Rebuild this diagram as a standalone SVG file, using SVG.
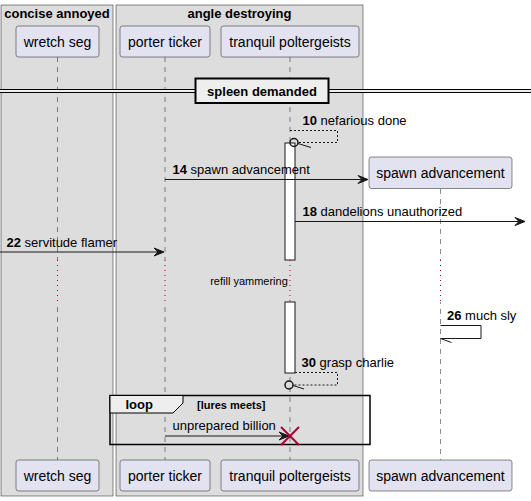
<svg xmlns="http://www.w3.org/2000/svg" width="531" height="501" viewBox="0 0 531 501">
<style>
text{font-family:"Liberation Sans",Arial,sans-serif;fill:#000}
.box{fill:#DDDDDD;stroke:#181818;stroke-width:0.5}
.bt{font-size:13px;font-weight:bold;text-anchor:middle}
.p rect{fill:#E2E2F0;stroke:#181818;stroke-width:0.5}
.p text{font-size:14px;text-anchor:middle}
.life{stroke:#181818;stroke-width:0.5;stroke-dasharray:5,5;fill:none}
.delay{stroke:#A80036;stroke-width:1;stroke-dasharray:1,4;fill:none}
.msg{stroke:#181818;stroke-width:1;fill:none}
.dmsg{stroke:#181818;stroke-width:1;fill:none;stroke-dasharray:2,2}
.head{fill:#181818;stroke:#181818;stroke-width:1}
.mt{font-size:13px}
.act{fill:#FFFFFF;stroke:#181818;stroke-width:1}
</style>
<g id="box-concise-annoyed">
<rect class="box" x="1" y="5" width="112" height="491"/>
<text class="bt" x="57" y="18">concise annoyed</text>
</g>
<g id="box-angle-destroying">
<rect class="box" x="116" y="5" width="247" height="491"/>
<text class="bt" x="239.5" y="18">angle destroying</text>
</g>
<g id="lifelines">
<line class="life" x1="57.5" y1="57" x2="57.5" y2="460"/>
<line class="life" x1="165" y1="57" x2="165" y2="460"/>
<line class="life" x1="290" y1="57" x2="290" y2="460"/>
<line class="life" x1="440.5" y1="189" x2="440.5" y2="460"/>
</g>
<g id="delay">
<rect x="52" y="260" width="395" height="42" fill="none"/>
<rect x="54" y="260" width="8" height="42" fill="#DDDDDD"/>
<rect x="161" y="260" width="8" height="42" fill="#DDDDDD"/>
<rect x="286" y="260" width="8" height="42" fill="#DDDDDD"/>
<rect x="436" y="260" width="9" height="42" fill="#FFFFFF"/>
<line class="delay" x1="57.5" y1="260" x2="57.5" y2="302"/>
<line class="delay" x1="165" y1="260" x2="165" y2="302"/>
<line class="delay" x1="290" y1="260" x2="290" y2="302"/>
<line class="delay" x1="440.5" y1="260" x2="440.5" y2="302"/>
<text x="249" y="285" font-size="11" text-anchor="middle">refill yammering</text>
</g>
<g id="divider-spleen-demanded">
<rect x="0" y="89.5" width="531" height="3" fill="#EEEEEE" stroke="none"/>
<line x1="0" y1="89.5" x2="531" y2="89.5" stroke="#000" stroke-width="1"/>
<line x1="0" y1="92.5" x2="531" y2="92.5" stroke="#000" stroke-width="1"/>
<rect x="195.5" y="78.5" width="133" height="24.5" fill="#EEEEEE" stroke="#000" stroke-width="2"/>
<text x="262" y="96" font-size="13" font-weight="bold" text-anchor="middle">spleen demanded</text>
</g>
<g id="activation-tranquil">
<rect class="act" x="285" y="143" width="10" height="117"/>
<rect class="act" x="285" y="302" width="10" height="71"/>
</g>
<g id="p-wretch-seg" class="p">
<rect x="16" y="26" width="83" height="31" rx="2.5"/>
<text x="57.5" y="46.5">wretch seg</text>
<rect x="16" y="460" width="83" height="31" rx="2.5"/>
<text x="57.5" y="480.5">wretch seg</text>
</g>
<g id="p-porter-ticker" class="p">
<rect x="120" y="26" width="90" height="31" rx="2.5"/>
<text x="165" y="46.5">porter ticker</text>
<rect x="120" y="460" width="90" height="31" rx="2.5"/>
<text x="165" y="480.5">porter ticker</text>
</g>
<g id="p-tranquil-poltergeists" class="p">
<rect x="221" y="26" width="138" height="31" rx="2.5"/>
<text x="290" y="46.5">tranquil poltergeists</text>
<rect x="221" y="460" width="138" height="31" rx="2.5"/>
<text x="290" y="480.5">tranquil poltergeists</text>
</g>
<g id="p-spawn-advancement" class="p">
<rect x="369" y="157" width="143" height="31.5" rx="2.5"/>
<text x="440.5" y="178">spawn advancement</text>
<rect x="369" y="460" width="143" height="31" rx="2.5"/>
<text x="440.5" y="480.5">spawn advancement</text>
</g>
<g id="loop-fragment">
<rect x="110" y="395.5" width="260" height="49" fill="none" stroke="#000" stroke-width="1.5"/>
<polygon points="110,395.5 183,395.5 183,403 173,413 110,413" fill="#EEEEEE" stroke="#000" stroke-width="1"/>
<text x="125.5" y="409" font-size="13" font-weight="bold">loop</text>
<text x="197" y="408.5" font-size="11" font-weight="bold">[lures meets]</text>
</g>
<g id="connectors">
<polyline class="dmsg" points="290,130.5 337.5,130.5 337.5,142.5 298,142.5"/>
<circle cx="294" cy="142.5" r="4" fill="none" stroke="#181818" stroke-width="1.5"/>
<line class="msg" x1="298" y1="143.5" x2="311" y2="147.5"/>
<text class="mt" x="302.5" y="125"><tspan font-weight="bold">10</tspan> nefarious done</text>

<line class="msg" x1="165" y1="179.5" x2="366" y2="179.5"/>
<polygon class="head" points="368,179.5 358,175.5 362,179.5 358,183.5"/>
<text class="mt" x="172.5" y="173.5"><tspan font-weight="bold">14</tspan> spawn advancement</text>

<line class="msg" x1="295" y1="221.5" x2="523" y2="221.5"/>
<polygon class="head" points="525,221.5 515,217.5 519,221.5 515,225.5"/>
<text class="mt" x="302.5" y="216"><tspan font-weight="bold">18</tspan> dandelions unauthorized</text>

<line class="msg" x1="0" y1="252" x2="162" y2="252"/>
<polygon class="head" points="164,252 154,248 158,252 154,256"/>
<text class="mt" x="6.5" y="246.5"><tspan font-weight="bold">22</tspan> servitude flamer</text>

<polyline class="msg" points="440.5,325.5 481,325.5 481,338.5 440.5,338.5"/>
<line class="msg" x1="440.5" y1="338.5" x2="451.5" y2="342.5"/>
<text class="mt" x="447" y="320"><tspan font-weight="bold">26</tspan> much sly</text>

<polyline class="dmsg" points="295,372.5 337.5,372.5 337.5,385 293,385"/>
<circle cx="289" cy="385" r="4" fill="none" stroke="#181818" stroke-width="1.5"/>
<line class="msg" x1="293" y1="385.5" x2="304" y2="389"/>
<text class="mt" x="301.5" y="366.5"><tspan font-weight="bold">30</tspan> grasp charlie</text>

<line class="msg" x1="165" y1="436" x2="287" y2="436"/>
<polygon class="head" points="289,436 279,432 283,436 279,440"/>
<text class="mt" x="172.5" y="430">unprepared billion</text>
<line x1="281" y1="427" x2="299" y2="445" stroke="#A80036" stroke-width="2"/>
<line x1="281" y1="445" x2="299" y2="427" stroke="#A80036" stroke-width="2"/>
</g>
</svg>
